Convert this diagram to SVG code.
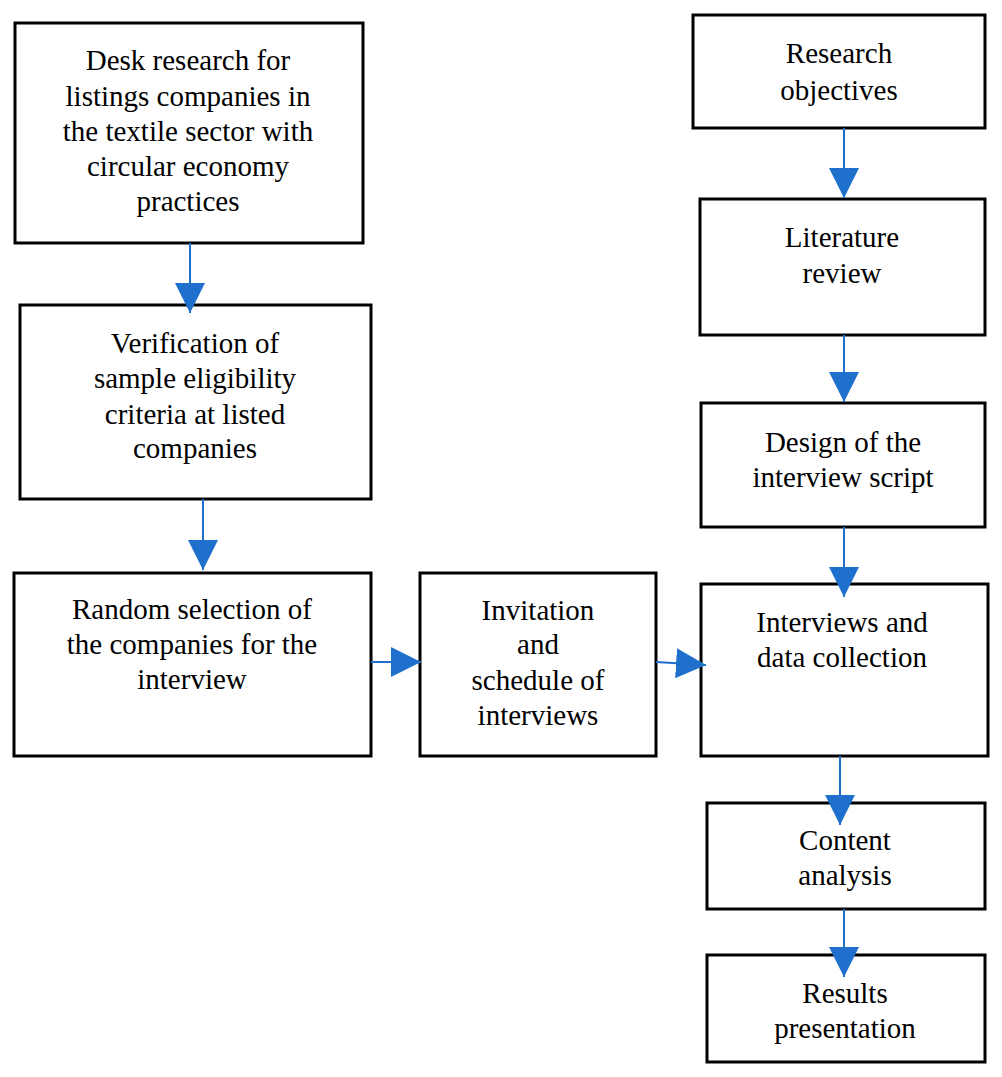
<svg xmlns="http://www.w3.org/2000/svg" width="1002" height="1077" viewBox="0 0 1002 1077">
<style>
.box{fill:#fff;stroke:#000;stroke-width:3}
.t{font-family:"Liberation Serif","Times New Roman",serif;font-size:29px;fill:#000;text-anchor:middle}
.c{stroke:#1f6fcc;stroke-width:2;fill:none;marker-end:url(#ah)}
</style>
<defs>
<marker id="ah" markerUnits="userSpaceOnUse" markerWidth="30" markerHeight="30" refX="30" refY="15" orient="auto" viewBox="0 0 30 30">
<path d="M0,0 L30,15 L0,30 Z" fill="#1f6fcc"/>
</marker>
</defs>
<rect width="1002" height="1077" fill="#fff"/>
<g id="n-desk">
<rect class="box" x="15" y="23" width="348" height="220"/>
<text class="t" x="188" y="70">Desk research for</text>
<text class="t" x="188" y="106">listings companies in</text>
<text class="t" x="188" y="141">the textile sector with</text>
<text class="t" x="188" y="176">circular economy</text>
<text class="t" x="188" y="211">practices</text>
</g>
<g id="n-verification">
<rect class="box" x="20" y="305" width="351" height="194"/>
<text class="t" x="195" y="353">Verification of</text>
<text class="t" x="195" y="388">sample eligibility</text>
<text class="t" x="195" y="424">criteria at listed</text>
<text class="t" x="195" y="458">companies</text>
</g>
<g id="n-random">
<rect class="box" x="14" y="573" width="357" height="183"/>
<text class="t" x="192" y="619">Random selection of</text>
<text class="t" x="192" y="654">the companies for the</text>
<text class="t" x="192" y="689">interview</text>
</g>
<g id="n-invitation">
<rect class="box" x="420" y="573" width="236" height="183"/>
<text class="t" x="538" y="620">Invitation</text>
<text class="t" x="538" y="654">and</text>
<text class="t" x="538" y="690">schedule of</text>
<text class="t" x="538" y="725">interviews</text>
</g>
<g id="n-objectives">
<rect class="box" x="693" y="15" width="292" height="113"/>
<text class="t" x="839" y="63">Research</text>
<text class="t" x="839" y="100">objectives</text>
</g>
<g id="n-literature">
<rect class="box" x="700" y="199" width="285" height="136"/>
<text class="t" x="842" y="247">Literature</text>
<text class="t" x="842" y="283">review</text>
</g>
<g id="n-design">
<rect class="box" x="701" y="403" width="284" height="124"/>
<text class="t" x="843" y="452">Design of the</text>
<text class="t" x="843" y="487">interview script</text>
</g>
<g id="n-interviews">
<rect class="box" x="701" y="584" width="287" height="172"/>
<text class="t" x="842" y="632">Interviews and</text>
<text class="t" x="842" y="667">data collection</text>
</g>
<g id="n-content">
<rect class="box" x="707" y="803" width="278" height="106"/>
<text class="t" x="845" y="850">Content</text>
<text class="t" x="845" y="885">analysis</text>
</g>
<g id="n-results">
<rect class="box" x="707" y="955" width="278" height="107"/>
<text class="t" x="845" y="1003">Results</text>
<text class="t" x="845" y="1038">presentation</text>
</g>
<g id="connectors">
<line class="c" x1="190" y1="243" x2="190" y2="313"/>
<line class="c" x1="203" y1="499" x2="203" y2="570"/>
<line class="c" x1="371" y1="662" x2="421" y2="662"/>
<line class="c" x1="656" y1="662" x2="706" y2="665"/>
<line class="c" x1="844" y1="128" x2="844" y2="198"/>
<line class="c" x1="844" y1="335" x2="844" y2="402"/>
<line class="c" x1="844" y1="527" x2="844" y2="597"/>
<line class="c" x1="840" y1="756" x2="840" y2="825"/>
<line class="c" x1="844" y1="909" x2="844" y2="977"/>
</g>
</svg>
